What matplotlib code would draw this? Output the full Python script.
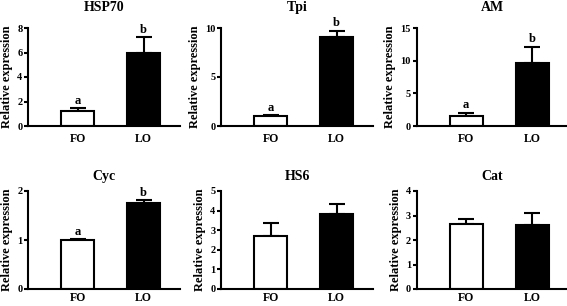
import numpy as np
from matplotlib import pyplot as plt

plt.rcParams['font.family'] = ['Liberation Serif', 'DejaVu Serif']
plt.rcParams['font.weight'] = 'bold'

genler = ['HSP70', 'Tpi', 'AM', 'Cyc', 'HS6', 'Cat']
gruplar = ['FO', 'LO']
fo_ort = [1.25, 1.0, 1.6, 1.0, 2.72, 2.64]
fo_hata = [0.2, 0.1, 0.42, 0.02, 0.63, 0.22]
lo_ort = [6.0, 9.1, 9.6, 1.76, 3.84, 2.61]
lo_hata = [1.25, 0.6, 2.5, 0.05, 0.5, 0.5]
harfler = [('a', 'b'), ('a', 'b'), ('a', 'b'), ('a', 'b'), ('', ''), ('', '')]
ymax = [8, 10, 15, 2, 5, 4]
yadim = [2, 5, 5, 1, 1, 1]

fig = plt.figure(figsize=(5.67, 3.06), dpi=100)
W, H = 567.0, 306.0
sol = [28.0, 221.0, 416.5]     # eksen sol kenari (piksel)
alt = [126.0, 289.0]           # y=0 cizgisi (piksel)
gen = 152.0
yuk = 98.0

for i, g in enumerate(genler):
    sat, sut = divmod(i, 3)
    ax = fig.add_axes([sol[sut] / W, 1 - alt[sat] / H, gen / W, yuk / H])
    x = np.arange(2)
    ort = [fo_ort[i], lo_ort[i]]
    hata = [fo_hata[i], lo_hata[i]]
    ax.bar(x, ort, width=0.5, color=['white', 'black'], edgecolor='black',
           linewidth=1.5, zorder=2)
    ax.errorbar(x, ort, yerr=[[0, 0], hata], fmt='none', ecolor='black',
                elinewidth=1.5, capsize=6, capthick=1.5, zorder=1)
    for k in range(2):
        if harfler[i][k]:
            ax.text(x[k], ort[k] + hata[k] + ymax[i] * 0.015, harfler[i][k],
                    ha='center', va='bottom', fontsize=9, fontweight='bold')
    ax.set_xlim(-0.75, 1.55)
    ax.set_ylim(0, ymax[i])
    ax.set_yticks(np.arange(0, ymax[i] + 0.01, yadim[i]))
    ax.set_xticks(x)
    ax.set_xticklabels(gruplar, fontsize=8.5, fontweight='bold')
    ax.tick_params(axis='x', length=0, pad=5 if sat == 0 else 2.5)
    ax.tick_params(axis='y', length=3, width=1.5, pad=1, labelsize=7.5)
    for t in ax.get_yticklabels():
        t.set_fontweight('bold')
    ax.spines['top'].set_visible(False)
    ax.spines['right'].set_visible(False)
    ax.spines['left'].set_linewidth(1.5)
    ax.spines['bottom'].set_linewidth(1.5)
    ax.set_ylabel('Relative expression', fontsize=9, fontweight='bold', labelpad=3)
    ax.set_title(g, fontsize=10, fontweight='bold', pad=12 if sat == 0 else 8)

plt.savefig('out.png', dpi=100)
